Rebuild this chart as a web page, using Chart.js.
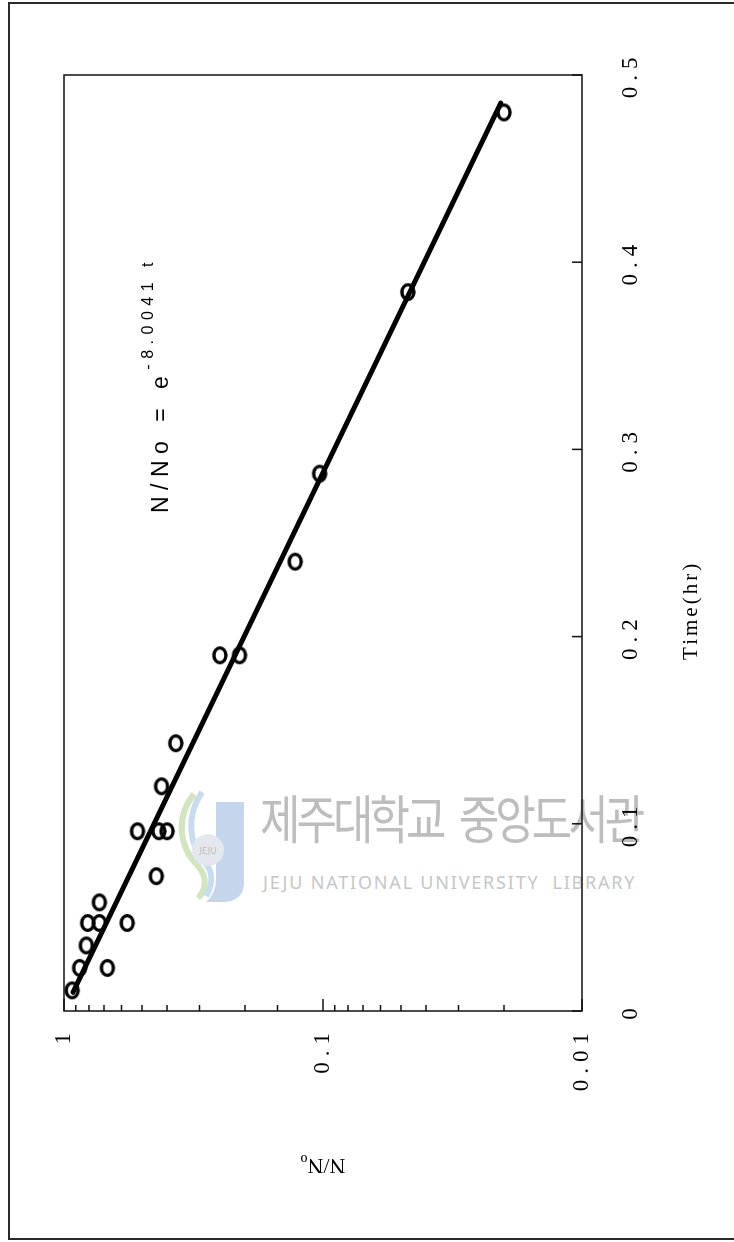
<!DOCTYPE html>
<html lang="ko">
<head>
  <meta charset="UTF-8">
  <title>N/No vs Time</title>
  <script src="https://cdn.jsdelivr.net/npm/chart.js"></script>
  <style>
    html, body {
      margin: 0;
      padding: 0;
      background: #fff;
      overflow: hidden;
    }
    body {
      width: 734px;
      height: 1242px;
      position: relative;
    }
    #frame {
      position: absolute;
      left: 8px;
      top: 2px;
      width: 760px;
      height: 1238px;
      border: 2px solid #2a2a2a;
      box-sizing: border-box;
    }
    #logo {
      position: absolute;
      left: 172px;
      top: 786px;
    }
    #lib-ko {
      position: absolute;
      left: 260px;
      top: 778px;
      font-family: "Noto Sans CJK KR", sans-serif;
      font-size: 44px;
      letter-spacing: -4px;
      word-spacing: 8px;
      color: #bdbdbd;
      white-space: nowrap;
      transform: scaleY(1.2);
      transform-origin: 0 0;
    }
    #lib-en {
      position: absolute;
      left: 263px;
      top: 870px;
      font-family: "Noto Sans", sans-serif;
      font-size: 18px;
      letter-spacing: 1.8px;
      color: #c6c6c6;
      white-space: nowrap;
    }
    /* the plot is laid out landscape and turned onto the page */
    #plot {
      position: absolute;
      left: 0;
      top: 0;
      width: 1242px;
      height: 734px;
      transform-origin: 0 0;
      transform: translate(0, 1242px) rotate(-90deg);
    }
  </style>
</head>
<body>

<div id="frame"></div>

<svg id="logo" width="80" height="120" viewBox="0 0 80 120">
  <path d="M22 8 C4 30 6 60 26 80 C36 92 34 104 26 112" fill="none" stroke="#d3e4c0" stroke-width="6"/>
  <path d="M30 6 C14 30 16 58 34 78 C42 88 40 100 34 110" fill="none" stroke="#c9dcee" stroke-width="6"/>
  <path d="M44 16 L72 16 L72 96 Q72 116 50 116 L34 116 Q44 108 44 92 Z" fill="#c5d5ec"/>
  <circle cx="36" cy="64" r="16" fill="#e4e8ee"/>
  <text x="36" y="68" font-family="Noto Sans" font-size="9" fill="#b5bcc6" text-anchor="middle">JEJU</text>
</svg>
<div id="lib-ko">제주대학교 중앙도서관</div>
<div id="lib-en">JEJU NATIONAL UNIVERSITY&nbsp;&nbsp;LIBRARY</div>

<canvas id="plot" width="1242" height="734"></canvas>

<script>
  // measured survival ratio N/No against exposure time (hr)
  const sampleTimes = [0.011, 0.023, 0.023, 0.035, 0.047, 0.047, 0.047, 0.058, 0.072, 0.096,
                       0.096, 0.096, 0.120, 0.143, 0.190, 0.190, 0.240, 0.287, 0.384, 0.480];
  const survival = [0.93, 0.87, 0.68, 0.82, 0.81, 0.73, 0.57, 0.73, 0.44, 0.52,
                    0.43, 0.40, 0.42, 0.37, 0.25, 0.21, 0.128, 0.103, 0.047, 0.020];

  // first-order fit  N/No = e^(-k t)
  const rateConstant = 8.0041;
  const fitTimes = [0.01, 0.485];

  const timeTicks = [0, 0.1, 0.2, 0.3, 0.4, 0.5];
  const ratioLabels = ['1', '0.1', '0.01'];

  const serif = '"Liberation Serif", "Times New Roman", serif';
  const sans = '"Liberation Sans", Arial, sans-serif';

  function isDecade(v) {
    const e = Math.log10(v);
    return Math.abs(e - Math.round(e)) < 1e-6;
  }

  // open oval marker
  function makeMarker() {
    const c = document.createElement('canvas');
    c.width = 22;
    c.height = 20;
    const g = c.getContext('2d');
    g.lineWidth = 3.3;
    g.strokeStyle = '#000';
    g.beginPath();
    g.ellipse(11, 10, 7.4, 6.0, 0, 0, Math.PI * 2);
    g.stroke();
    return c;
  }

  const points = sampleTimes.map((t, i) => ({ x: t, y: survival[i] }));
  const fitLine = fitTimes.map(t => ({ x: t, y: Math.exp(-rateConstant * t) }));

  const boxAndText = {
    id: 'boxAndText',
    beforeDraw(chart) {
      chart.ctx.letterSpacing = '6px';
    },
    afterDraw(chart) {
      const { ctx, chartArea: a, scales: { x, y } } = chart;
      ctx.save();
      ctx.letterSpacing = '0px';

      ctx.strokeStyle = '#111';
      ctx.lineWidth = 1.5;
      ctx.strokeRect(a.left, a.top, a.right - a.left, a.bottom - a.top);

      // inward tick marks
      ctx.beginPath();
      x.ticks.forEach(t => {
        const px = x.getPixelForValue(t.value);
        ctx.moveTo(px, a.bottom);
        ctx.lineTo(px, a.bottom - 10);
      });
      y.ticks.forEach(t => {
        const py = y.getPixelForValue(t.value);
        ctx.moveTo(a.left, py);
        ctx.lineTo(a.left + (isDecade(t.value) ? 12 : 6), py);
      });
      ctx.stroke();

      ctx.fillStyle = '#000';
      ctx.textBaseline = 'alphabetic';

      // x title
      ctx.font = '21px ' + serif;
      ctx.letterSpacing = '3px';
      ctx.textAlign = 'center';
      ctx.fillText('Time(hr)', x.getPixelForValue(0.214), a.bottom + 115);

      // y title with subscript
      ctx.letterSpacing = '0px';
      ctx.save();
      ctx.translate(75, (a.top + a.bottom) / 2);
      ctx.rotate(-Math.PI / 2);
      ctx.textAlign = 'left';
      ctx.font = '22px ' + serif;
      const wMain = ctx.measureText('N/N').width;
      ctx.font = '14px ' + serif;
      const wSub = ctx.measureText('o').width;
      const x0 = -(wMain + wSub) / 2;
      ctx.font = '22px ' + serif;
      ctx.fillText('N/N', x0, 8);
      ctx.font = '14px ' + serif;
      ctx.fillText('o', x0 + wMain, 12);
      ctx.restore();

      // fitted equation
      ctx.textAlign = 'left';
      const ex = x.getPixelForValue(0.266);
      const ey = y.getPixelForValue(0.397);
      ctx.font = '23px ' + sans;
      ctx.letterSpacing = '6.5px';
      ctx.fillText('N/No = e', ex, ey);
      const w = ctx.measureText('N/No = e').width;
      ctx.font = '16px ' + sans;
      ctx.letterSpacing = '5.5px';
      ctx.fillText('-' + rateConstant.toFixed(4) + ' t', ex + w, ey - 15);

      ctx.restore();
    }
  };

  const ctx = document.getElementById('plot').getContext('2d');
  const chart = new Chart(ctx, {
    type: 'scatter',
    data: {
      datasets: [
        {
          data: points,
          pointStyle: makeMarker(),
          pointRadius: 10,
          showLine: false
        },
        {
          data: fitLine,
          showLine: true,
          borderColor: '#000',
          borderWidth: 5,
          pointRadius: 0,
          borderCapStyle: 'round'
        }
      ]
    },
    options: {
      responsive: false,
      animation: false,
      layout: { padding: { top: 64, right: 75, left: 0, bottom: 0 } },
      plugins: {
        legend: { display: false },
        tooltip: { enabled: false }
      },
      scales: {
        x: {
          type: 'linear',
          min: 0,
          max: 0.5,
          afterBuildTicks: scale => { scale.ticks = timeTicks.map(v => ({ value: v })); },
          afterFit: scale => { scale.height = 152; },
          grid: { display: false, drawTicks: false },
          border: { display: false },
          ticks: {
            color: '#000',
            font: { family: serif, size: 23 },
            padding: 35,
            maxRotation: 0,
            autoSkip: false,
            callback: v => (v === 0 ? '0' : v.toFixed(1))
          }
        },
        y: {
          type: 'logarithmic',
          min: 0.01,
          max: 1,
          afterFit: scale => { scale.width = 231; },
          grid: { display: false, drawTicks: false },
          border: { display: false },
          ticks: {
            color: '#000',
            font: { family: serif, size: 23 },
            padding: 16,
            autoSkip: false,
            callback: v => (isDecade(v) ? ratioLabels[-Math.round(Math.log10(v))] : '')
          }
        }
      }
    },
    plugins: [boxAndText]
  });
</script>
</body>
</html>
